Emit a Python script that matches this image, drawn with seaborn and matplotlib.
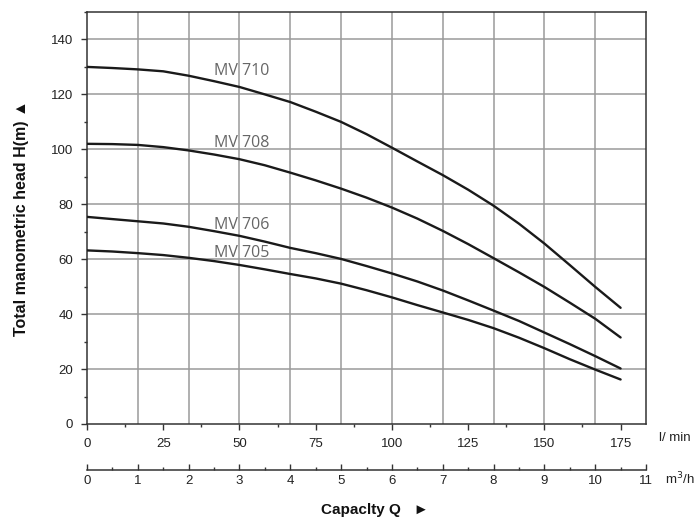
import matplotlib
matplotlib.use('Agg')
import numpy as np
import pandas as pd
import matplotlib.pyplot as plt
import seaborn as sns
from matplotlib.ticker import MultipleLocator

# pump curves (flow in l/min, head in m)
flow_lmin = [0, 8.3, 16.7, 25, 33.3, 41.7, 50, 58.3, 66.7, 75, 83.3, 91.7,
             100, 108.3, 116.7, 125, 133.3, 141.7, 150, 158.3, 166.7, 175]
head_mv710 = [130, 129.6, 129.1, 128.4, 126.8, 124.8, 122.7, 120, 117.2, 113.7, 110, 105.5,
              100.6, 95.6, 90.6, 85.3, 79.5, 72.9, 65.7, 57.9, 49.9, 42.3]
head_mv708 = [102, 101.9, 101.6, 100.8, 99.6, 98.1, 96.4, 94.2, 91.5, 88.7, 85.7, 82.4,
              78.8, 74.8, 70.3, 65.5, 60.4, 55.2, 49.9, 44.2, 38.3, 31.5]
head_mv706 = [75.4, 74.6, 73.8, 73, 71.8, 70.2, 68.5, 66.4, 64.1, 62.2, 60.1, 57.5,
              54.8, 51.9, 48.6, 45, 41.3, 37.5, 33.3, 29.1, 24.7, 20.2]
head_mv705 = [63.2, 62.8, 62.2, 61.5, 60.5, 59.3, 57.9, 56.3, 54.6, 53, 51.1, 48.7,
              46.1, 43.3, 40.6, 37.9, 34.9, 31.4, 27.6, 23.6, 19.8, 16.2]
models = ['MV 710', 'MV 708', 'MV 706', 'MV 705']
m3h_ticks = list(range(0, 12))

rows = []
for name, heads in zip(models, [head_mv710, head_mv708, head_mv706, head_mv705]):
    for q, h in zip(flow_lmin, heads):
        rows.append({'model': name, 'flow': q, 'head': h})
df = pd.DataFrame(rows)

sns.set_style('white')
plt.rcParams['font.family'] = ['Liberation Sans', 'DejaVu Sans']

fig = plt.figure(figsize=(6.95, 5.21), dpi=100)
ax = fig.add_axes([0.1252, 0.1862, 0.8043, 0.7908])

LMIN_PER_M3H = 1000 / 60
xmax = m3h_ticks[-1] * LMIN_PER_M3H

# grid: vertical lines on m3/h integers, horizontal every 20 m
ax.vlines([k * LMIN_PER_M3H for k in m3h_ticks[1:-1]], 0, 150, color='#9a9a9a', lw=1.1, zorder=1)
for yv in range(20, 150, 20):
    ax.axhline(yv, color='#9a9a9a', lw=1.1, zorder=1)

sns.lineplot(data=df, x='flow', y='head', hue='model', units='model', estimator=None,
             palette=['#1a1a1a'] * 4, sort=False, legend=False, lw=1.7, ax=ax, zorder=3)

label_y = {'MV 710': 128.4, 'MV 708': 102.4, 'MV 706': 72.4, 'MV 705': 62.4}
for name in models:
    ax.text(41.5, label_y[name], name, fontsize=11.5, color='#666666', va='center', ha='left',
            family=['Open Sans', 'DejaVu Sans'], zorder=4)

ax.set_xlim(0, xmax)
ax.set_ylim(0, 150)
ax.set_xticks(np.arange(0, 176, 25))
ax.xaxis.set_minor_locator(MultipleLocator(12.5))
ax.set_yticks(np.arange(0, 141, 20))
ax.yaxis.set_minor_locator(MultipleLocator(10))
ax.tick_params(axis='both', which='both', bottom=True, left=True, top=False, right=False)
ax.tick_params(axis='both', which='major', direction='out', length=4.5, width=1, color='#333333',
               labelsize=9.5, labelcolor='#222222')
ax.tick_params(axis='both', which='minor', direction='out', length=2.5, width=1, color='#333333')
ax.tick_params(axis='x', which='major', pad=5.5)
ax.tick_params(axis='y', which='major', pad=5.5)
for sp in ax.spines.values():
    sp.set_color('#333333')
    sp.set_linewidth(1.1)
ax.set_xlabel('')
ax.set_ylabel('Total manometric head H(m) \u25b2', fontsize=11.5, fontweight='bold',
              color='#111111', labelpad=16)

# second scale in m3/h
sec = ax.secondary_xaxis('bottom', functions=(lambda x: x / LMIN_PER_M3H, lambda x: x * LMIN_PER_M3H))
sec.spines['bottom'].set_position(('outward', 33))
sec.spines['bottom'].set_color('#333333')
sec.spines['bottom'].set_linewidth(1.1)
sec.set_xticks(m3h_ticks)
sec.xaxis.set_minor_locator(MultipleLocator(0.5))
sec.tick_params(which='both', bottom=True)
sec.tick_params(which='major', direction='in', length=4.5, width=1, color='#333333',
                labelsize=9.5, labelcolor='#222222', pad=3.5)
sec.tick_params(which='minor', direction='in', length=2.5, width=1, color='#333333')

fig.text(0.948, 0.159, 'l/ min', fontsize=9.5, color='#222222', va='center', ha='left')
fig.text(0.957, 0.081, 'm$^3$/h', fontsize=9.5, color='#222222', va='center', ha='left')
fig.text(0.54, 0.021, 'Capaclty Q   \u25ba', fontsize=11, fontweight='bold', color='#111111',
         va='center', ha='center')

fig.savefig('out.png', dpi=100)
